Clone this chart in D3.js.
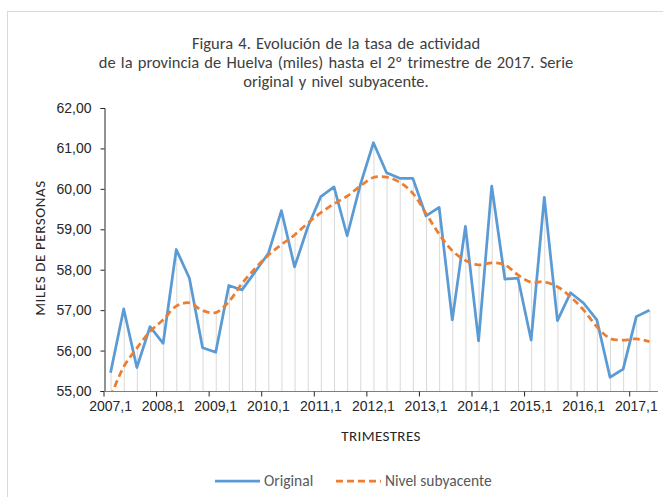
<!DOCTYPE html>
<html><head><meta charset="utf-8">
<script src="https://cdn.jsdelivr.net/npm/d3@7"></script>
<style>
html,body{margin:0;padding:0;background:#fff;}
svg{display:block;font-family:Carlito,Lato,"Open Sans",sans-serif;}
</style></head>
<body><svg id="chart" width="663" height="497"></svg>
<script>
const categories = ["2007,1","2007,2","2007,3","2007,4","2008,1","2008,2","2008,3","2008,4",
"2009,1","2009,2","2009,3","2009,4","2010,1","2010,2","2010,3","2010,4",
"2011,1","2011,2","2011,3","2011,4","2012,1","2012,2","2012,3","2012,4",
"2013,1","2013,2","2013,3","2013,4","2014,1","2014,2","2014,3","2014,4",
"2015,1","2015,2","2015,3","2015,4","2016,1","2016,2","2016,3","2016,4",
"2017,1","2017,2"];
const original = [55.45,57.03,55.58,56.59,56.18,58.50,57.79,56.07,55.96,57.61,57.50,57.95,
58.40,59.46,58.07,59.05,59.81,60.05,58.84,60.10,61.14,60.40,60.26,60.26,
59.33,59.54,56.76,59.07,56.24,60.07,57.77,57.79,56.26,59.79,56.74,57.43,
57.17,56.76,55.34,55.54,56.84,57.00];
const subyacente = [54.85,55.60,56.06,56.47,56.76,57.10,57.18,56.99,56.94,57.21,57.66,58.03,
58.36,58.62,58.86,59.15,59.41,59.63,59.82,60.07,60.28,60.29,60.16,59.89,
59.39,58.88,58.47,58.23,58.12,58.17,58.12,57.87,57.69,57.70,57.58,57.33,
57.00,56.59,56.30,56.26,56.29,56.22];
const yTicks = [55,56,57,58,59,60,61,62];
const xLabelCats = categories.filter((c,i)=>i%4===0);
const titleLines = ["Figura 4. Evolución de la tasa de actividad",
 "de la provincia de Huelva (miles) hasta el 2º trimestre de 2017. Serie",
 "original y nivel subyacente."];

const svg = d3.select("#chart");
const L=104, R=656, T=108, B=391;
const blue="#5B9BD5", orange="#ED7D31";

svg.append("rect").attr("x",7.5).attr("y",11.5).attr("width",700).attr("height",600)
  .attr("fill","#fff").attr("stroke","#d9d9d9");

const x = d3.scaleBand().domain(categories).range([L,R]).paddingInner(0).paddingOuter(0);
const cx = c => x(c) + x.bandwidth()/2;
const y = d3.scaleLinear().domain([55,62]).range([B,T]);

// title
svg.append("g").selectAll("text").data(titleLines).join("text")
  .attr("x",336).attr("y",(d,i)=>49+i*19).attr("text-anchor","middle")
  .attr("font-size",16.5).attr("fill","#404040").attr("word-spacing",1.5).text(d=>d);

// drop lines
svg.append("g").selectAll("line").data(categories).join("line")
  .attr("x1",d=>cx(d)+0.5).attr("x2",d=>cx(d)+0.5)
  .attr("y1",(d,i)=>y(Math.max(original[i],subyacente[i])))
  .attr("y2",B)
  .attr("stroke","#d9d9d9").attr("stroke-width",1);

// y axis
const yAxis = d3.axisLeft(y).tickValues(yTicks).tickSize(4).tickPadding(9)
  .tickFormat(d=>d3.format(".2f")(d).replace(".",","));
const gy = svg.append("g").attr("transform",`translate(${L+0.5},0)`).call(yAxis);
gy.select(".domain").attr("stroke","#262626");
gy.selectAll(".tick line").attr("stroke","#262626");
gy.selectAll(".tick text").attr("font-size",14).attr("fill","#262626").attr("font-family",null);

// x axis
const xAxis = d3.axisBottom(x).tickValues(xLabelCats).tickSize(0).tickPadding(10);
const gx = svg.append("g").attr("transform",`translate(0,${B+0.5})`).call(xAxis);
gx.select(".domain").attr("stroke","#7f7f7f").attr("d",`M${L},0H${R+2}`);
gx.selectAll(".tick text").attr("font-size",14).attr("fill","#262626").attr("font-family",null);
gx.selectAll(".tick").append("line")
  .attr("x1",-x.bandwidth()/2).attr("x2",-x.bandwidth()/2).attr("y1",0).attr("y2",5)
  .attr("stroke","#262626");

// clip
svg.append("clipPath").attr("id","clip").append("rect")
  .attr("x",L).attr("y",T-5).attr("width",R-L+5).attr("height",B-T+5);

const lineO = d3.line().x((d,i)=>cx(categories[i])).y(d=>y(d));
svg.append("path").datum(original).attr("d",lineO).attr("fill","none")
  .attr("stroke",blue).attr("stroke-width",2.75).attr("stroke-linejoin","round")
  .attr("clip-path","url(#clip)");
const lineS = d3.line().x((d,i)=>cx(categories[i])).y(d=>y(d)).curve(d3.curveCatmullRom.alpha(0.5));
svg.append("path").datum(subyacente).attr("d",lineS).attr("fill","none")
  .attr("stroke",orange).attr("stroke-width",2.75).attr("stroke-dasharray","7,4")
  .attr("clip-path","url(#clip)");

// axis titles
svg.append("text").attr("transform","translate(45,248) rotate(-90)").attr("text-anchor","middle")
  .attr("font-size",15).attr("letter-spacing",0.6).attr("fill","#262626").text("MILES DE PERSONAS");
svg.append("text").attr("x",381).attr("y",441).attr("text-anchor","middle")
  .attr("font-size",15).attr("letter-spacing",0.4).attr("fill","#262626").text("TRIMESTRES");

// legend
const lg = svg.append("g");
lg.append("line").attr("x1",215).attr("x2",260).attr("y1",481).attr("y2",481)
  .attr("stroke",blue).attr("stroke-width",2.75);
lg.append("text").attr("x",264).attr("y",486).attr("font-size",15.5).attr("fill","#595959").text("Original");
lg.append("line").attr("x1",336).attr("x2",381).attr("y1",481).attr("y2",481)
  .attr("stroke",orange).attr("stroke-width",2.75).attr("stroke-dasharray","7,4");
lg.append("text").attr("x",385).attr("y",486).attr("font-size",15.5).attr("fill","#595959").text("Nivel subyacente");
</script></body></html>
